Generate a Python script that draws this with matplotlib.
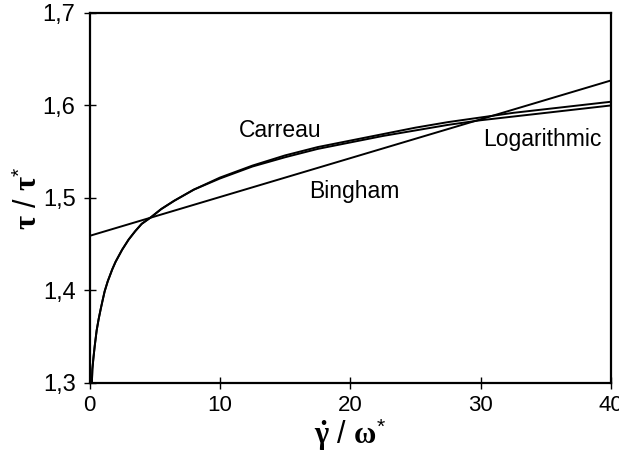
import numpy as np
import matplotlib
matplotlib.use("Agg")
import matplotlib.pyplot as plt

plt.rcParams['font.family'] = ['Liberation Sans', 'DejaVu Sans']
plt.rcParams['mathtext.fontset'] = 'custom'
plt.rcParams['mathtext.rm'] = 'Liberation Sans'
plt.rcParams['mathtext.bf'] = 'Liberation Serif:bold'
plt.rcParams['mathtext.it'] = 'Liberation Serif:italic'

# values
shear_rate = [0.18, 0.22, 0.3, 0.4, 0.55, 0.7, 0.86, 1.0, 1.16, 1.4, 1.75,
              2.0, 2.5, 3.0, 3.5, 4.0, 4.7, 5.5, 6.5, 8.0, 10.0, 12.5, 15.0,
              17.5, 20.0, 22.5, 25.0, 27.5, 30.0, 32.5, 35.0, 37.5, 40.0]
tau_log = [1.300, 1.315, 1.327, 1.340, 1.357, 1.369, 1.380, 1.389, 1.399,
           1.410, 1.423, 1.431, 1.444, 1.455, 1.464, 1.472, 1.479, 1.488,
           1.497, 1.509, 1.521, 1.534, 1.544, 1.553, 1.560, 1.567, 1.573,
           1.579, 1.584, 1.588, 1.592, 1.596, 1.600]
tau_carreau = [1.300, 1.315, 1.327, 1.340, 1.357, 1.369, 1.380, 1.389, 1.399,
               1.410, 1.423, 1.431, 1.444, 1.455, 1.464, 1.472, 1.479, 1.488,
               1.497, 1.509, 1.522, 1.535, 1.546, 1.555, 1.562, 1.569, 1.576,
               1.582, 1.587, 1.592, 1.596, 1.600, 1.604]
bingham_x = [0.0, 40.0]
bingham_y = [1.459, 1.627]

xticks = [0, 10, 20, 30, 40]
yticks = [1.3, 1.4, 1.5, 1.6, 1.7]
ytick_labels = ['1,3', '1,4', '1,5', '1,6', '1,7']

fig = plt.figure(figsize=(6.19, 4.62), dpi=100)
ax = fig.add_axes([0.1446, 0.171, 0.8424, 0.801])

ax.plot(shear_rate, tau_carreau, color='black', lw=1.4)
ax.plot(shear_rate, tau_log, color='black', lw=1.4)
ax.plot(bingham_x, bingham_y, color='black', lw=1.4)

# curve labels
ax.text(14.6, 1.573, 'Carreau', fontsize=16.5, ha='center', va='center')
ax.text(20.3, 1.507, 'Bingham', fontsize=16.5, ha='center', va='center')
ax.text(34.7, 1.563, 'Logarithmic', fontsize=16.5, ha='center', va='center')

ax.set_xlim(0, 40)
ax.set_ylim(1.3, 1.7)
ax.set_xticks(xticks)
ax.set_yticks(yticks)
ax.set_yticklabels(ytick_labels)
ax.tick_params(direction='inout', length=8, width=1, labelsize=16, pad=5)
ax.tick_params(axis='y', labelsize=17, pad=6)
for s in ax.spines.values():
    s.set_linewidth(1.6)

ax.set_xlabel(r'$\mathbf{\dot{\gamma}}$ / $\mathbf{\omega}^{*}$', fontsize=22, labelpad=0)
ax.set_ylabel(r'$\mathbf{\tau}$ / $\mathbf{\tau}^{*}$', fontsize=22, labelpad=-1)

fig.savefig('out.png', dpi=100)
